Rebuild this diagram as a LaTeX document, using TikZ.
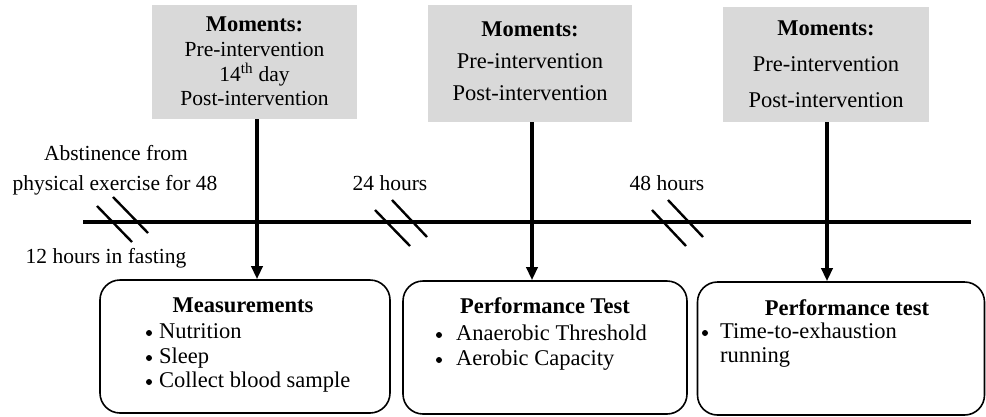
\documentclass[tikz,border=0pt]{standalone}
\usepackage{fontspec}
\setmainfont{Liberation Serif}
\usetikzlibrary{arrows.meta}
\definecolor{boxgray}{RGB}{217,217,217}
\begin{document}
\begin{tikzpicture}[x=1pt,y=-1pt,
  txt/.style={inner sep=0pt, font=\fontsize{21.5}{25}\selectfont, text height=15pt, text depth=5pt},
  txtb/.style={txt, font=\fontsize{22.5}{26}\selectfont\bfseries},
  txtl/.style={txt, font=\fontsize{22.5}{26}\selectfont},
  topbox/.style={fill=boxgray, draw=none, inner sep=0pt},
  botbox/.style={draw=black, line width=1.6pt, rounded corners=20pt, inner sep=0pt},
  arr/.style={line width=3.4pt, -{Triangle[length=13pt,width=11pt]}},
  slash/.style={line width=2.4pt},
  timeline/.style={line width=4pt},
  bulletdot/.style={fill=black}
]
\useasboundingbox (0,0) rectangle (986,416);

% top boxes
\node[topbox, minimum width=205pt, minimum height=114pt] (t1) at (254.5,62) {};
\node[topbox, minimum width=204pt, minimum height=117pt] (t2) at (530,63.5) {};
\node[topbox, minimum width=206pt, minimum height=115pt] (t3) at (826,64.5) {};

\node[txtb] (t1h) at (254.5,26) {Moments:};
\node[txt]  (t1a) at (254.5,51) {Pre-intervention};
\node[txt]  (t1b) at (254.5,76) {14\textsuperscript{th} day};
\node[txt]  (t1c) at (254.5,100) {Post-intervention};

\node[txtb] (t2h) at (530,31) {Moments:};
\node[txtl] (t2a) at (530,63) {Pre-intervention};
\node[txtl] (t2b) at (530,95) {Post-intervention};

\node[txtb] (t3h) at (826,30) {Moments:};
\node[txtl] (t3a) at (826,66) {Pre-intervention};
\node[txtl] (t3b) at (826,102) {Post-intervention};

% bottom boxes
\node[botbox, minimum width=290pt, minimum height=133pt] (b1) at (245,346.5) {};
\node[botbox, minimum width=284pt, minimum height=133pt] (b2) at (545,347.5) {};
\node[botbox, minimum width=287pt, minimum height=133pt] (b3) at (841,348.5) {};

\node[txtb] (b1h) at (243,307) {Measurements};
\node[txtl, anchor=west] (b1a) at (159,333) {Nutrition};
\node[txtl, anchor=west] (b1b) at (159,358) {Sleep};
\node[txtl, anchor=west] (b1c) at (159,382) {Collect blood sample};
\fill[bulletdot] (149,333) circle (3pt);
\fill[bulletdot] (149,358) circle (3pt);
\fill[bulletdot] (149,382) circle (3pt);

\node[txtb] (b2h) at (545,308) {Performance Test};
\node[txtl, anchor=west] (b2a) at (456,335) {Anaerobic Threshold};
\node[txtl, anchor=west] (b2b) at (456,360) {Aerobic Capacity};
\fill[bulletdot] (439,335) circle (3pt);
\fill[bulletdot] (439,360) circle (3pt);

\node[txtb] (b3h) at (847,310) {Performance test};
\node[txtl, anchor=west] (b3a) at (720,333) {Time-to-exhaustion};
\node[txtl, anchor=west] (b3b) at (720,357) {running};
\fill[bulletdot] (705,333) circle (3pt);

% timeline
\coordinate (L0) at (83,222);
\coordinate (L1) at (971,222);
\draw[timeline] (L0) -- (L1);

% side labels
\node[txt] (ab1) at (116,155) {Abstinence from};
\node[txt] (ab2) at (115,185) {physical exercise for 48};
\node[txt] (fast) at (106,258) {12 hours in fasting};
\node[txt] (h24) at (390,185) {24 hours};
\node[txt] (h48) at (667,185) {48 hours};

% break marks
\draw[slash] (97,206) -- (132,242);
\draw[slash] (113,197) -- (148,233);
\draw[slash] (375,210) -- (410,246);
\draw[slash] (392,200) -- (427,237);
\draw[slash] (652,210) -- (686,246);
\draw[slash] (668,200) -- (703,237);

% arrows
\coordinate (a1) at (257,0);
\coordinate (a2) at (532,0);
\coordinate (a3) at (827,0);
\draw[arr] (t1.south -| a1) -- (b1.north -| a1);
\draw[arr] (t2.south -| a2) -- (b2.north -| a2);
\draw[arr] (t3.south -| a3) -- (b3.north -| a3);
\end{tikzpicture}
\end{document}
